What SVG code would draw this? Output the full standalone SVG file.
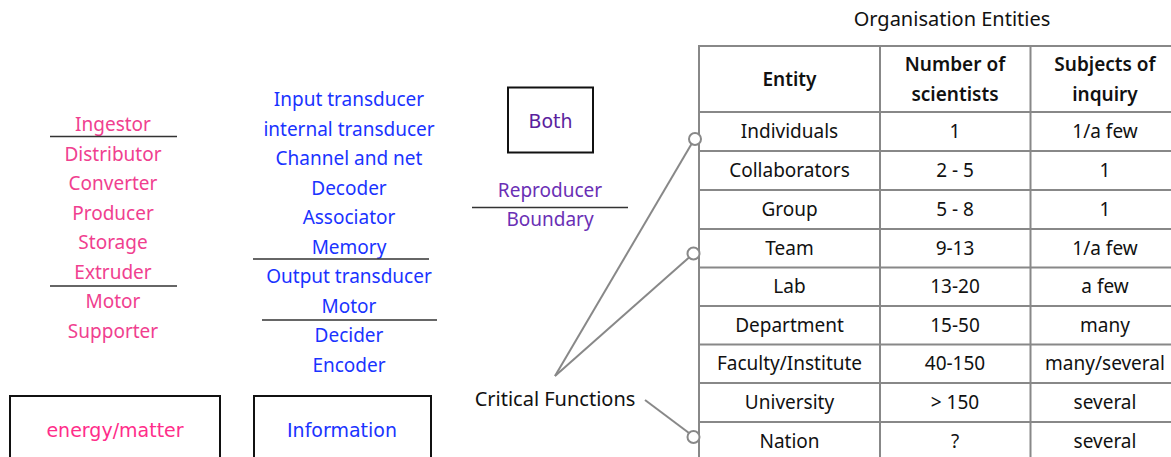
<svg xmlns="http://www.w3.org/2000/svg" width="1171" height="457" viewBox="0 0 1171 457">
<style>
text{font-family:"Noto Sans",Lato,"DejaVu Sans",sans-serif;font-size:19px;text-anchor:middle}
.pk{fill:#f0408f}
.bl{fill:#1a33ff}
.pu{fill:#6a2fb5}
.bk{fill:#111}
.hd{font-weight:600}
.lg{font-size:20px}
.cm{font-family:"DejaVu Sans",sans-serif;font-size:19px}
.sep{stroke:#333;stroke-width:1.5}
.box{fill:none;stroke:#111;stroke-width:2}
.grid{stroke:#888;stroke-width:2;fill:none}
.con{stroke:#888;stroke-width:2;fill:none}
.dot{stroke:#888;stroke-width:2;fill:#fff}
</style>
<rect width="1171" height="457" fill="#fff"/>
<g id="energy-list">
<text class="pk" x="113" y="131">Ingestor</text>
<line class="sep" x1="50" y1="136.5" x2="177" y2="136.5"/>
<text class="pk" x="113" y="160.5">Distributor</text>
<text class="pk" x="113" y="190">Converter</text>
<text class="pk" x="113" y="219.5">Producer</text>
<text class="pk" x="113" y="249">Storage</text>
<text class="pk" x="113" y="278.5">Extruder</text>
<line class="sep" x1="50" y1="286" x2="177" y2="286"/>
<text class="pk" x="113" y="308">Motor</text>
<text class="pk" x="113" y="337.5">Supporter</text>
</g>
<g id="info-list">
<text class="bl" x="349" y="106">Input transducer</text>
<text class="bl" x="349" y="135.5">internal transducer</text>
<text class="bl" x="349" y="165">Channel and net</text>
<text class="bl" x="349" y="194.5">Decoder</text>
<text class="bl" x="349" y="224">Associator</text>
<text class="bl" x="349" y="253.5">Memory</text>
<line class="sep" x1="253" y1="259" x2="429" y2="259"/>
<text class="bl" x="349" y="283">Output transducer</text>
<text class="bl" x="349" y="312.5">Motor</text>
<line class="sep" x1="262" y1="320" x2="437" y2="320"/>
<text class="bl" x="349" y="342">Decider</text>
<text class="bl" x="349" y="371.5">Encoder</text>
</g>
<g id="both-list">
<text class="pu" x="550" y="196.5">Reproducer</text>
<line class="sep" x1="472" y1="207.5" x2="628" y2="207.5"/>
<text class="pu" x="550" y="225.5">Boundary</text>
</g>
<g id="box-both">
<rect class="box" x="508" y="87.5" width="85" height="65"/>
<text class="cm" x="550.5" y="128" fill="#5a1f9e">Both</text>
</g>
<g id="box-energy">
<rect class="box" x="10" y="396" width="210" height="70"/>
<text class="cm" x="115" y="437" fill="#ff2d8a">energy/matter</text>
</g>
<g id="box-info">
<rect class="box" x="254" y="396" width="177" height="70"/>
<text class="cm" x="342" y="437" fill="#1a33ff">Information</text>
</g>
<g id="critical-functions">
<text class="bk lg" x="555" y="406">Critical Functions</text>
</g>
<g id="table">
<text class="bk lg" x="952" y="26">Organisation Entities</text>
<rect class="grid" x="699" y="46" width="490" height="430"/>
<line class="grid" x1="880" y1="46" x2="880" y2="457"/>
<line class="grid" x1="1030.5" y1="46" x2="1030.5" y2="457"/>
<line class="grid" x1="699" y1="112" x2="1171" y2="112"/>
<line class="grid" x1="699" y1="151" x2="1171" y2="151"/>
<line class="grid" x1="699" y1="190" x2="1171" y2="190"/>
<line class="grid" x1="699" y1="229" x2="1171" y2="229"/>
<line class="grid" x1="699" y1="267.5" x2="1171" y2="267.5"/>
<line class="grid" x1="699" y1="306" x2="1171" y2="306"/>
<line class="grid" x1="699" y1="344.5" x2="1171" y2="344.5"/>
<line class="grid" x1="699" y1="383" x2="1171" y2="383"/>
<line class="grid" x1="699" y1="422" x2="1171" y2="422"/>
<text class="bk hd" x="789.5" y="86">Entity</text>
<text class="bk hd" x="955" y="71">Number of</text>
<text class="bk hd" x="955" y="101">scientists</text>
<text class="bk hd" x="1105" y="71">Subjects of</text>
<text class="bk hd" x="1105" y="101">inquiry</text>
<text class="bk" x="789.5" y="138">Individuals</text>
<text class="bk" x="955" y="138">1</text>
<text class="bk" x="1105" y="138">1/a few</text>
<text class="bk" x="789.5" y="177">Collaborators</text>
<text class="bk" x="955" y="177">2 - 5</text>
<text class="bk" x="1105" y="177">1</text>
<text class="bk" x="789.5" y="216">Group</text>
<text class="bk" x="955" y="216">5 - 8</text>
<text class="bk" x="1105" y="216">1</text>
<text class="bk" x="789.5" y="254.5">Team</text>
<text class="bk" x="955" y="254.5">9-13</text>
<text class="bk" x="1105" y="254.5">1/a few</text>
<text class="bk" x="789.5" y="293">Lab</text>
<text class="bk" x="955" y="293">13-20</text>
<text class="bk" x="1105" y="293">a few</text>
<text class="bk" x="789.5" y="331.5">Department</text>
<text class="bk" x="955" y="331.5">15-50</text>
<text class="bk" x="1105" y="331.5">many</text>
<text class="bk" x="789.5" y="370">Faculty/Institute</text>
<text class="bk" x="955" y="370">40-150</text>
<text class="bk" x="1105" y="370">many/several</text>
<text class="bk" x="789.5" y="409">University</text>
<text class="bk" x="955" y="409">&gt; 150</text>
<text class="bk" x="1105" y="409">several</text>
<text class="bk" x="789.5" y="447.5">Nation</text>
<text class="bk" x="955" y="447.5">?</text>
<text class="bk" x="1105" y="447.5">several</text>
</g>
<g id="connectors">
<line class="con" x1="555" y1="376" x2="691.5" y2="144"/>
<line class="con" x1="555" y1="376" x2="689" y2="257.5"/>
<line class="con" x1="645" y1="400" x2="689" y2="433"/>
<circle class="dot" cx="695" cy="139" r="6"/>
<circle class="dot" cx="693.5" cy="253.5" r="6"/>
<circle class="dot" cx="693.5" cy="437" r="6"/>
</g>
</svg>
